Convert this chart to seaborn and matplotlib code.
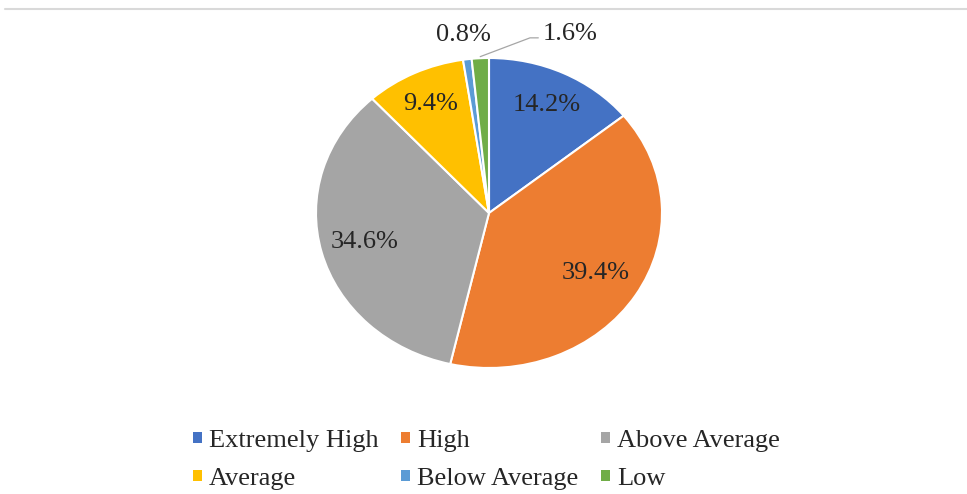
"""Pie chart: share of respondents by level (Excel-style recreation)."""
import numpy as np
import matplotlib
matplotlib.use("Agg")
import matplotlib.pyplot as plt
from matplotlib.patches import Patch
from matplotlib.lines import Line2D
import seaborn as sns

# Data
categories = ["Extremely High", "High", "Above Average", "Average", "Below Average", "Low"]
shares = [14.2, 39.4, 34.6, 9.4, 0.8, 1.6]
colors = ["#4472C4", "#ED7D31", "#A5A5A5", "#FFC000", "#5B9BD5", "#70AD47"]

sns.set_theme(style="white")
plt.rcParams["font.family"] = ["Liberation Serif", "DejaVu Serif"]

W, H = 967, 494
fig = plt.figure(figsize=(W / 100, H / 100), dpi=100)

# pie is slightly wider than tall in the reference
cx, cy, rx, ry = 489, 213, 173, 155
k = 1.2
ax = fig.add_axes([(cx - rx * k) / W, (H - cy - ry * k) / H, 2 * rx * k / W, 2 * ry * k / H])

wedges, _ = ax.pie(shares, colors=colors, startangle=90, counterclock=False,
                   wedgeprops=dict(edgecolor="white", linewidth=1.5))
ax.set_aspect("auto")
ax.set_xlim(-k, k)
ax.set_ylim(-k, k)

# inside labels: distance from centre (fraction of radius) per slice
label_r = [0.77, 0.73, 0.745, 0.78]
label_size = 19
for w, pct, r in zip(wedges[:4], shares[:4], label_r):
    ang = np.deg2rad((w.theta1 + w.theta2) / 2)
    ax.text(r * np.cos(ang), r * np.sin(ang), f"{pct:.1f}%", ha="center", va="center",
            fontsize=label_size, color="#262626")

# small slices: labels outside
w_ba, w_low = wedges[4], wedges[5]
ang = np.deg2rad((w_ba.theta1 + w_ba.theta2) / 2)
ax.text(np.cos(ang) - 0.02, 1.15, f"{shares[4]:.1f}%", ha="center", va="center",
        fontsize=label_size, color="#262626")

ang = np.deg2rad((w_low.theta1 + w_low.theta2) / 2)
x0, y0 = 1.01 * np.cos(ang), 1.01 * np.sin(ang)
ax.plot([x0, 0.237, 0.285], [y0, 1.13, 1.13], color="#a6a6a6", lw=0.9, clip_on=False)
ax.text(0.31, 1.155, f"{shares[5]:.1f}%", ha="left", va="center",
        fontsize=label_size, color="#262626")

# legend: Excel fills rows first, matplotlib fills columns, so reorder
order = [0, 3, 1, 4, 2, 5]
handles = [Patch(facecolor=colors[i], edgecolor="none") for i in order]
labels = [categories[i] for i in order]
fig.legend(handles, labels, ncol=3, loc="center left", bbox_to_anchor=(193 / W, 1 - 460 / H),
           frameon=False, fontsize=19, handlelength=0.33, handleheight=0.28,
           handletextpad=0.28, columnspacing=0.85, labelspacing=0.6,
           borderpad=0, borderaxespad=0)

# thin grey rule at the top
fig.add_artist(Line2D([5 / W, 1], [1 - 9 / H, 1 - 9 / H], transform=fig.transFigure,
                      color="#d9d9d9", lw=1.5))

fig.savefig("out.png", dpi=100)
